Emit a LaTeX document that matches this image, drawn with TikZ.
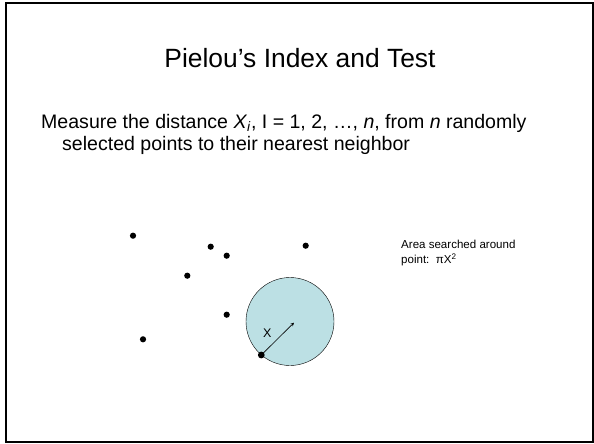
\documentclass[tikz,border=0pt]{standalone}
\usepackage{fontspec}
\setmainfont{Liberation Sans}
\usetikzlibrary{arrows.meta,positioning}
\definecolor{PaleTeal}{HTML}{BCE0E4}

\begin{document}
\begin{tikzpicture}[x=1pt,y=-1pt,
dot/.style={circle,fill=black,inner sep=0pt,minimum size=6.2pt},
txt/.style={anchor=base west,inner sep=0pt},
radius/.style={-{Stealth[length=3.5pt,width=3.5pt]},semithick}]
\useasboundingbox (0,0) rectangle (594,444);
\draw[line width=2pt] (6,3) rectangle (593,442);
% heading and statement
\node[anchor=base,inner sep=0pt,font=\fontsize{26.4}{31}\selectfont] (title) at (300,67) {Pielou’s Index and Test};
\node[txt,font=\fontsize{19.55}{23}\selectfont] (line1) at (41,128) {Measure the distance \textit{X}\textsubscript{\textit{i}}, I = 1, 2, …, \textit{n}, from \textit{n} randomly};
\node[txt,font=\fontsize{19.55}{23}\selectfont] (line2) at (62,150.5) {selected points to their nearest neighbor};
% searched area
\node[circle,draw,fill=PaleTeal,minimum size=88pt,inner sep=0pt] (area) at (290,321.5) {};
\coordinate (ctr) at (294,322.7);
% points
\node[dot] (p1) at (133,235.7) {};
\node[dot] (p2) at (210.7,246.7) {};
\node[dot] (p3) at (226.7,255.7) {};
\node[dot] (p4) at (305.7,245.7) {};
\node[dot] (p5) at (187.3,275.7) {};
\node[dot] (p6) at (226.7,314.7) {};
\node[dot] (p7) at (143,339.3) {};
\node[dot,minimum size=6.8pt] (p8) at (261.3,355) {};
\draw[radius] (p8.center) -- (ctr);
\node[font=\fontsize{12.5}{15}\selectfont,inner sep=0pt] (xlab) at (267.3,333.3) {X};
\node[txt,font=\fontsize{11.55}{14}\selectfont] (note1) at (401,248.3) {Area searched around};
\node[txt,font=\fontsize{11.55}{14}\selectfont] (note2) at (401,263.8) {point:~~πX\textsuperscript{2}};
\end{tikzpicture}
\end{document}
